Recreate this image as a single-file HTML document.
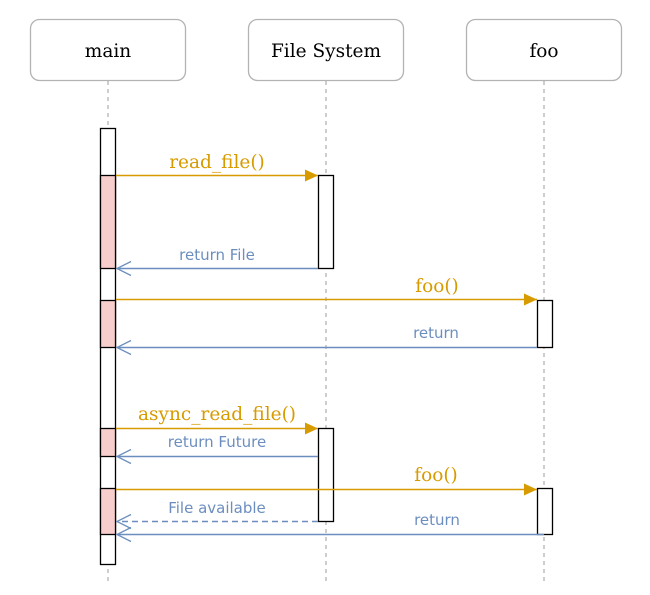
<!DOCTYPE html>
<html><head><meta charset="utf-8"><style>html,body{margin:0;padding:0;background:#fff}svg{display:block}</style></head>
<body>
<svg width="650" height="595" xmlns="http://www.w3.org/2000/svg">
<defs>
<marker id="fa" markerWidth="14" markerHeight="12" refX="13" refY="6" orient="auto" markerUnits="userSpaceOnUse"><path d="M0,0 L13,6 L0,12 Z" fill="#d79b00"/></marker>
<marker id="oa" markerWidth="16" markerHeight="16" refX="15" refY="8" orient="auto" markerUnits="userSpaceOnUse"><path d="M1,1 L15,8 L1,15" fill="none" stroke="#6c8ebf" stroke-width="1.3"/></marker>
</defs>
<g stroke="#b3b3b3" stroke-width="1.3" stroke-dasharray="4,4">
<line x1="108" y1="81" x2="108" y2="582"/><line x1="326" y1="81" x2="326" y2="582"/><line x1="544" y1="81" x2="544" y2="582"/>
</g>
<g fill="#fff" stroke="#b3b3b3" stroke-width="1.3">
<rect x="30.5" y="19.5" width="155" height="61" rx="9"/><rect x="248.5" y="19.5" width="155" height="61" rx="9"/><rect x="466.5" y="19.5" width="155" height="61" rx="9"/>
</g>
<g font-family="DejaVu Serif, serif" font-size="18.5" text-anchor="middle" fill="#000">
<text x="108" y="57">main</text><text x="326" y="57">File System</text><text x="544" y="57">foo</text>
</g>
<g stroke="#000" stroke-width="1.3">
<rect x="100.5" y="128.5" width="15" height="436" fill="#fff"/>
<rect x="100.5" y="175.5" width="15" height="93" fill="#f8cecc"/>
<rect x="100.5" y="300.5" width="15" height="47" fill="#f8cecc"/>
<rect x="100.5" y="428.5" width="15" height="28" fill="#f8cecc"/>
<rect x="100.5" y="488.5" width="15" height="46" fill="#f8cecc"/>
<rect x="318.5" y="175.5" width="15" height="93" fill="#fff"/>
<rect x="318.5" y="428.5" width="15" height="93" fill="#fff"/>
<rect x="537.5" y="300.5" width="15" height="47" fill="#fff"/>
<rect x="537.5" y="488.5" width="15" height="46" fill="#fff"/>
</g>
<g stroke="#d79b00" stroke-width="1.4" marker-end="url(#fa)">
<line x1="116" y1="175.5" x2="318" y2="175.5"/>
<line x1="116" y1="299.5" x2="537" y2="299.5"/>
<line x1="116" y1="428.5" x2="318" y2="428.5"/>
<line x1="116" y1="489.5" x2="537" y2="489.5"/>
</g>
<g stroke="#6c8ebf" stroke-width="1.4" marker-end="url(#oa)">
<line x1="318" y1="268.5" x2="117" y2="268.5"/>
<line x1="537" y1="347.5" x2="117" y2="347.5"/>
<line x1="318" y1="456.5" x2="117" y2="456.5"/>
<line x1="318" y1="521.5" x2="117" y2="521.5" stroke-dasharray="6,4"/>
<line x1="544" y1="534.5" x2="117" y2="534.5"/>
</g>
<g font-family="DejaVu Serif, serif" font-size="18.5" text-anchor="middle" fill="#d79b00">
<text x="217" y="168">read_file()</text>
<text x="437" y="292">foo()</text>
<text x="217" y="420">async_read_file()</text>
<text x="436" y="481">foo()</text>
</g>
<g font-family="DejaVu Sans, sans-serif" font-size="15" text-anchor="middle" fill="#6c8ebf">
<text x="217" y="260">return File</text>
<text x="436" y="338">return</text>
<text x="217" y="447">return Future</text>
<text x="217" y="513">File available</text>
<text x="437" y="525">return</text>
</g>
</svg>
</body></html>
